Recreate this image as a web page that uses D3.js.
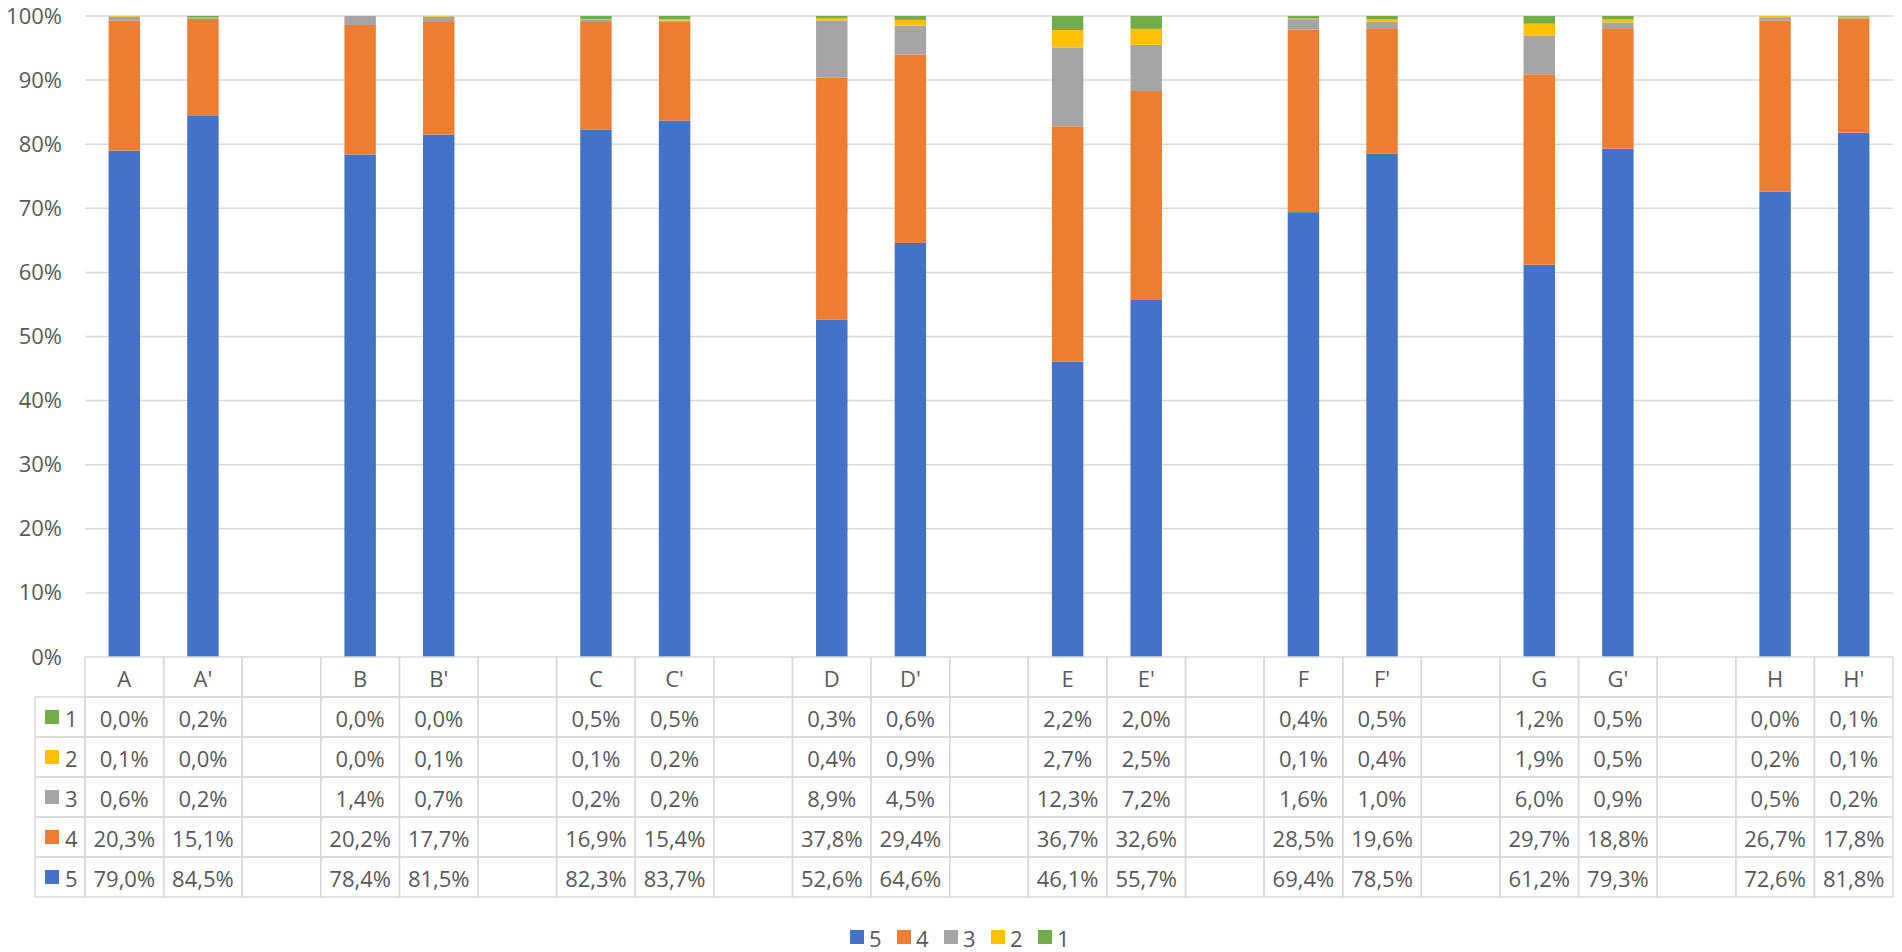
<!DOCTYPE html>
<html>
<head>
<meta charset="utf-8">
<script src="https://cdn.jsdelivr.net/npm/d3@7/dist/d3.min.js"></script>
<style>
  html, body { margin: 0; padding: 0; background: #fff; }
  svg { display: block; }
  text { font-family: "Open Sans", "Noto Sans", sans-serif; fill: #595959; }
</style>
</head>
<body>
<svg id="chart" width="1902" height="952"></svg>
<script>
const categories = ["A", "A'", "B", "B'", "C", "C'", "D", "D'", "E", "E'", "F", "F'", "G", "G'", "H", "H'"];
const seriesNames = ["5", "4", "3", "2", "1"];
const s5 = [79.0, 84.5, 78.4, 81.5, 82.3, 83.7, 52.6, 64.6, 46.1, 55.7, 69.4, 78.5, 61.2, 79.3, 72.6, 81.8];
const s4 = [20.3, 15.1, 20.2, 17.7, 16.9, 15.4, 37.8, 29.4, 36.7, 32.6, 28.5, 19.6, 29.7, 18.8, 26.7, 17.8];
const s3 = [0.6, 0.2, 1.4, 0.7, 0.2, 0.2, 8.9, 4.5, 12.3, 7.2, 1.6, 1.0, 6.0, 0.9, 0.5, 0.2];
const s2 = [0.1, 0.0, 0.0, 0.1, 0.1, 0.2, 0.4, 0.9, 2.7, 2.5, 0.1, 0.4, 1.9, 0.5, 0.2, 0.1];
const s1 = [0.0, 0.2, 0.0, 0.0, 0.5, 0.5, 0.3, 0.6, 2.2, 2.0, 0.4, 0.5, 1.2, 0.5, 0.0, 0.1];
const yTicks = [0, 0.1, 0.2, 0.3, 0.4, 0.5, 0.6, 0.7, 0.8, 0.9, 1.0];
const colors = { "5": "#4472C4", "4": "#ED7D31", "3": "#A5A5A5", "2": "#FFC000", "1": "#70AD47" };

const seriesValues = { "5": s5, "4": s4, "3": s3, "2": s2, "1": s1 };

// build columns: two categories per group, a blank column between groups
const columns = [];
categories.forEach((c, i) => {
  const row = { key: "c" + i, label: c, idx: i };
  seriesNames.forEach(s => row[s] = seriesValues[s][i]);
  columns.push(row);
  if (i % 2 === 1 && i < categories.length - 1) columns.push({ key: "gap" + i, label: "", idx: -1 });
});

// ---- layout ----
const svg = d3.select("#chart");
const plotLeft = 85, plotRight = 1893, plotTop = 16, plotBottom = 657;
const tableLeft = 35, headerH = 40, rowH = 40;
const fs = 22;
const gridColor = "#D9D9D9";

const xCol = d3.scaleBand().domain(columns.map(d => d.key)).range([plotLeft, plotRight]).padding(0);
const xBar = d3.scaleBand().domain(columns.map(d => d.key)).range([plotLeft, plotRight]).paddingInner(0.6).paddingOuter(0.3);
const y = d3.scaleLinear().domain([0, 1]).range([plotBottom, plotTop]);

// gridlines
svg.append("g").selectAll("line").data(yTicks.filter(t => t > 0)).join("line")
  .attr("x1", plotLeft).attr("x2", plotRight)
  .attr("y1", d => y(d)).attr("y2", d => y(d))
  .attr("stroke", gridColor).attr("stroke-width", 1.5);

// y axis labels
const yAxis = d3.axisLeft(y).tickValues(yTicks).tickFormat(d3.format(".0%")).tickSize(0).tickPadding(0);
const gy = svg.append("g").attr("transform", `translate(${plotLeft - 23},0)`).call(yAxis);
gy.select(".domain").remove();
gy.selectAll("text").attr("font-size", fs).attr("fill", "#595959")
  .style("font-family", '"Open Sans", "Noto Sans", sans-serif');

// stacked bars (100% stacked)
const dataCols = columns.filter(d => d.idx >= 0);
const stack = d3.stack().keys(seriesNames).offset(d3.stackOffsetExpand);
const stacked = stack(dataCols);
svg.append("g").selectAll("g").data(stacked).join("g")
  .attr("fill", d => colors[d.key])
  .selectAll("rect").data(d => d).join("rect")
  .attr("x", d => xBar(d.data.key))
  .attr("width", xBar.bandwidth())
  .attr("y", d => y(d[1]))
  .attr("height", d => Math.max(0, y(d[0]) - y(d[1])));

// ---- data table ----
const tableRows = ["1", "2", "3", "4", "5"];
const tg = svg.append("g");
const fmt = v => v.toFixed(1).replace(".", ",") + "%";

// header cells
tg.selectAll("rect.hdr").data(columns).join("rect").attr("class", "hdr")
  .attr("x", d => xCol(d.key)).attr("y", plotBottom)
  .attr("width", xCol.bandwidth()).attr("height", headerH)
  .attr("fill", "none").attr("stroke", gridColor).attr("stroke-width", 1.5);
tg.selectAll("text.hdr").data(columns).join("text").attr("class", "hdr")
  .attr("x", d => xCol(d.key) + xCol.bandwidth() / 2)
  .attr("y", plotBottom + headerH / 2 + 1)
  .attr("text-anchor", "middle").attr("dominant-baseline", "central")
  .attr("font-size", fs).text(d => d.label);

// legend key column
const rowsTop = plotBottom + headerH;
const legendCells = tg.selectAll("g.lk").data(tableRows).join("g").attr("class", "lk")
  .attr("transform", (d, i) => `translate(${tableLeft},${rowsTop + i * rowH})`);
legendCells.append("rect").attr("width", plotLeft - tableLeft).attr("height", rowH)
  .attr("fill", "none").attr("stroke", gridColor).attr("stroke-width", 1.5);
legendCells.append("rect").attr("x", 10).attr("y", rowH / 2 - 7).attr("width", 14).attr("height", 14)
  .attr("fill", d => colors[d]);
legendCells.append("text").attr("x", 30).attr("y", rowH / 2 + 1)
  .attr("dominant-baseline", "central").attr("font-size", fs).text(d => d);

// value cells
tableRows.forEach((s, ri) => {
  const ry = rowsTop + ri * rowH;
  const rg = tg.append("g");
  rg.selectAll("rect").data(columns).join("rect")
    .attr("x", d => xCol(d.key)).attr("y", ry)
    .attr("width", xCol.bandwidth()).attr("height", rowH)
    .attr("fill", "none").attr("stroke", gridColor).attr("stroke-width", 1.5);
  rg.selectAll("text").data(columns.filter(d => d.idx >= 0)).join("text")
    .attr("x", d => xCol(d.key) + xCol.bandwidth() / 2)
    .attr("y", ry + rowH / 2 + 1)
    .attr("text-anchor", "middle").attr("dominant-baseline", "central")
    .attr("font-size", fs).text(d => fmt(d[s]));
});

// ---- bottom legend ----
const legendY = 937, itemW = 47;
const legendX0 = 850;
const lg = svg.append("g").selectAll("g").data(seriesNames).join("g")
  .attr("transform", (d, i) => `translate(${legendX0 + i * itemW},${legendY})`);
lg.append("rect").attr("x", 0).attr("y", -7).attr("width", 14).attr("height", 14).attr("fill", d => colors[d]);
lg.append("text").attr("x", 19).attr("y", 1).attr("dominant-baseline", "central")
  .attr("font-size", fs).text(d => d);
</script>
</body>
</html>
